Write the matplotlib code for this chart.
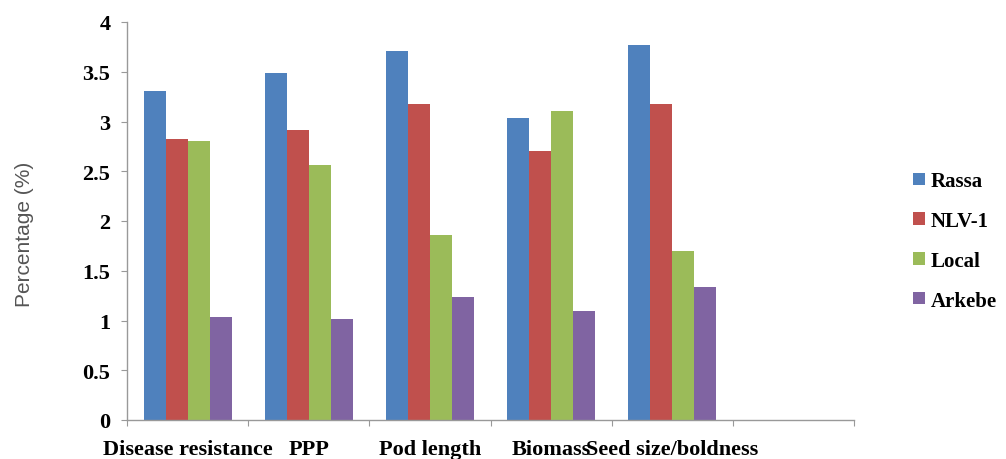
import numpy as np
import matplotlib
matplotlib.use('Agg')
import matplotlib.pyplot as plt
from matplotlib.ticker import FixedLocator, NullFormatter

# data
categories = ['Disease resistance', 'PPP', 'Pod length', 'Biomass', 'Seed size/boldness']
series_names = ['Rassa', 'NLV-1', 'Local', 'Arkebe']
rassa = [3.31, 3.49, 3.71, 3.04, 3.77]
nlv1 = [2.82, 2.91, 3.18, 2.70, 3.18]
local = [2.80, 2.56, 1.86, 3.11, 1.70]
arkebe = [1.04, 1.02, 1.24, 1.10, 1.34]
yticks = [0, 0.5, 1, 1.5, 2, 2.5, 3, 3.5, 4]
ytick_labels = ['0', '0.5', '1', '1.5', '2', '2.5', '3', '3.5', '4']

colors = ['#4F81BD', '#C0504D', '#9BBB59', '#8064A2']
values = [rassa, nlv1, local, arkebe]

fig = plt.figure(figsize=(10.06, 4.6), dpi=100)
ax = fig.add_axes([127/1006, 1-421/460, (854-127)/1006, (421-23)/460])

n_slots = 6  # excel axis leaves an empty slot on the right
bw = 1/5.5
x = np.arange(len(categories)) + 0.5
for i, (vals, c) in enumerate(zip(values, colors)):
    ax.bar(x + (i-1.5)*bw, vals, width=bw, color=c, label=series_names[i], zorder=2)

serif = {'family': 'Liberation Serif', 'weight': 'bold', 'size': 16}

ax.set_xlim(0, n_slots)
ax.set_ylim(0, 4)
ax.set_yticks(yticks)
ax.set_yticklabels(ytick_labels, **serif)
ax.xaxis.set_major_locator(FixedLocator(np.arange(n_slots+1)))
ax.xaxis.set_major_formatter(NullFormatter())
ax.xaxis.set_minor_locator(FixedLocator(x))
ax.set_xticklabels(categories, minor=True, **serif)
ax.tick_params(axis='x', which='minor', length=0, pad=14)
ax.tick_params(axis='x', which='major', length=4, color='#999999')
ax.tick_params(axis='y', length=4, color='#999999', pad=8)

for s in ['top', 'right']:
    ax.spines[s].set_visible(False)
for s in ['left', 'bottom']:
    ax.spines[s].set_color('#999999')
    ax.spines[s].set_linewidth(1)

ax.set_ylabel('Percentage (%)', family='Liberation Sans', fontsize=15, color='#555555')
ax.yaxis.set_label_coords(-0.128, 0.47)

leg = ax.legend(loc='center left', bbox_to_anchor=(1.07, 0.45), frameon=False,
                prop={'family': 'Liberation Serif', 'weight': 'bold', 'size': 15},
                handlelength=0.55, handleheight=0.55, handletextpad=0.3, labelspacing=0.95,
                borderaxespad=0)

fig.savefig('out.png', dpi=100)
